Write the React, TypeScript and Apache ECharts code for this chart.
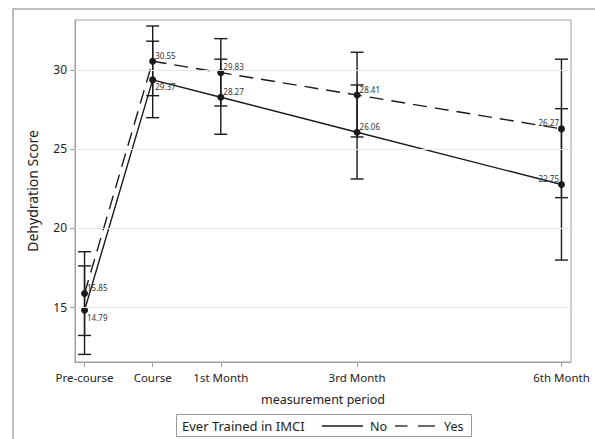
import React, { useEffect, useRef } from "react";
import * as echarts from "echarts";

const periods = ["Pre-course", "Course", "1st Month", "3rd Month", "6th Month"];
const monthPos = [-1, 0, 1, 3, 6];
const yTicks = [15, 20, 25, 30];
const noMeans = [14.79, 29.37, 28.27, 26.06, 22.75];
const yesMeans = [15.85, 30.55, 29.83, 28.41, 26.27];
const noLower = [12.0, 26.98, 25.93, 23.1, 17.97];
const noUpper = [17.6, 31.82, 30.68, 29.05, 27.55];
const yesLower = [13.2, 28.37, 27.72, 25.76, 21.92];
const yesUpper = [18.5, 32.78, 31.98, 31.12, 30.68];
// label placement per point: "tr" top-right, "br" bottom-right, "tl" top-left
const noLabelPos = ["br", "br", "tr", "tr", "tl"];
const yesLabelPos = ["tr", "tr", "tr", "tr", "tl"];

const FONT = "Noto Sans";
const INK = "#1a1a1a";
const LABEL_COLOR = "#333333";

function labelFor(pos: string) {
  const base = { color: LABEL_COLOR, fontSize: 8, fontFamily: FONT };
  if (pos === "tl") return { ...base, position: "left", distance: 0, offset: [1, -6] };
  if (pos === "br") return { ...base, position: "right", distance: 0, offset: [-1, 7] };
  return { ...base, position: "right", distance: 0, offset: [-1, -6] };
}

function lineData(means: number[], lp: string[]) {
  return monthPos.map((x, i) => ({ value: [x, means[i]], label: labelFor(lp[i]) }));
}

function errData(lo: number[], hi: number[]) {
  return monthPos.map((x, i) => [x, lo[i], hi[i]]);
}

function renderErr(params: any, api: any) {
  const x = api.value(0);
  const pLo = api.coord([x, api.value(1)]);
  const pHi = api.coord([x, api.value(2)]);
  const hw = 6.5;
  const style = { stroke: INK, lineWidth: 1.4 };
  return {
    type: "group",
    children: [
      { type: "line", shape: { x1: pLo[0], y1: pLo[1], x2: pHi[0], y2: pHi[1] }, style },
      { type: "line", shape: { x1: pLo[0] - hw, y1: pLo[1], x2: pLo[0] + hw, y2: pLo[1] }, style },
      { type: "line", shape: { x1: pHi[0] - hw, y1: pHi[1], x2: pHi[0] + hw, y2: pHi[1] }, style },
    ],
  };
}

export default function App() {
  const ref = useRef<HTMLDivElement>(null);
  useEffect(() => {
    document.body.style.margin = "0";
    const chart = echarts.init(ref.current!, null, { renderer: "svg" });
    const commonLine = {
      type: "line",
      symbol: "circle",
      symbolSize: 7,
      itemStyle: { color: INK },
      z: 3,
    };
    const labelBase = {
      show: true,
      fontSize: 8,
      fontFamily: FONT,
      color: LABEL_COLOR,
      formatter: (p: any) => p.value[1].toFixed(2),
    };
    chart.setOption({
      animation: false,
      textStyle: { fontFamily: FONT },
      grid: {
        left: 75,
        top: 20,
        right: 24,
        bottom: 77,
        show: true,
        borderColor: "#a0a0a0",
        borderWidth: 1,
      },
      xAxis: {
        type: "value",
        min: -1.14,
        max: 6.14,
        name: "measurement period",
        nameLocation: "middle",
        nameGap: 31,
        nameTextStyle: { fontSize: 12.5, color: "#222", fontFamily: FONT },
        axisLine: { show: true, onZero: false, lineStyle: { color: "#a0a0a0" } },
        axisTick: { show: true, length: 5, customValues: monthPos, lineStyle: { color: "#a0a0a0" } },
        axisLabel: {
          customValues: monthPos,
          fontSize: 11.5,
          color: "#222",
          margin: 9,
          fontFamily: FONT,
          formatter: (v: number) => {
            const i = monthPos.indexOf(Math.round(v));
            return i >= 0 ? periods[i] : "";
          },
        },
        splitLine: { show: false },
      },
      yAxis: {
        type: "value",
        min: 11.52,
        max: 33.16,
        name: "Dehydration Score",
        nameLocation: "middle",
        nameGap: 36,
        nameTextStyle: { fontSize: 14, color: "#222", fontFamily: FONT },
        axisLine: { show: true, onZero: false, lineStyle: { color: "#a0a0a0" } },
        axisTick: { show: true, length: 5, customValues: yTicks, lineStyle: { color: "#a0a0a0" } },
        axisLabel: { customValues: yTicks, fontSize: 12, color: "#222", margin: 8, fontFamily: FONT },
        splitLine: { show: false },
      },
      graphic: [
        {
          type: "rect",
          shape: { x: 13, y: 9, width: 700, height: 600 },
          style: { fill: "none", stroke: "#a8a8a8", lineWidth: 1.5 },
          silent: true,
        },
        {
          type: "group",
          children: [
            { type: "rect", shape: { x: 176.5, y: 414.5, width: 295, height: 22 }, style: { fill: "#fff", stroke: "#999", lineWidth: 1 } },
            { type: "text", x: 182, y: 426, style: { text: "Ever Trained in IMCI", fontSize: 13, fontFamily: FONT, fill: "#222", verticalAlign: "middle" } },
            { type: "line", shape: { x1: 322, y1: 426, x2: 363, y2: 426 }, style: { stroke: INK, lineWidth: 1.3 } },
            { type: "text", x: 370, y: 426, style: { text: "No", fontSize: 12.5, fontFamily: FONT, fill: "#222", verticalAlign: "middle" } },
            { type: "line", shape: { x1: 395, y1: 426, x2: 407.5, y2: 426 }, style: { stroke: INK, lineWidth: 1.3 } },
            { type: "line", shape: { x1: 418, y1: 426, x2: 435, y2: 426 }, style: { stroke: INK, lineWidth: 1.3 } },
            { type: "text", x: 444, y: 426, style: { text: "Yes", fontSize: 12.5, fontFamily: FONT, fill: "#222", verticalAlign: "middle" } },
          ],
        },
      ],
      series: [
        {
          type: "line",
          data: yTicks.map((v) => [monthPos[0], v]),
          symbol: "none",
          lineStyle: { width: 0 },
          silent: true,
          markLine: {
            silent: true,
            symbol: "none",
            label: { show: false },
            lineStyle: { color: "#e6e6e6", type: "solid", width: 1 },
            data: yTicks.map((v) => ({ yAxis: v })),
          },
          z: 0,
        },
        { type: "custom", name: "No CI", renderItem: renderErr, data: errData(noLower, noUpper), z: 2 },
        { type: "custom", name: "Yes CI", renderItem: renderErr, data: errData(yesLower, yesUpper), z: 2 },
        {
          ...commonLine,
          name: "No",
          data: lineData(noMeans, noLabelPos),
          lineStyle: { color: INK, width: 1.4, type: "solid" },
          label: labelBase,
        },
        {
          ...commonLine,
          name: "Yes",
          data: lineData(yesMeans, yesLabelPos),
          lineStyle: { color: INK, width: 1.4, type: [14, 8] },
          label: labelBase,
        },
      ],
    });
    return () => chart.dispose();
  }, []);
  return <div ref={ref} style={{ width: 595, height: 439 }} />;
}
